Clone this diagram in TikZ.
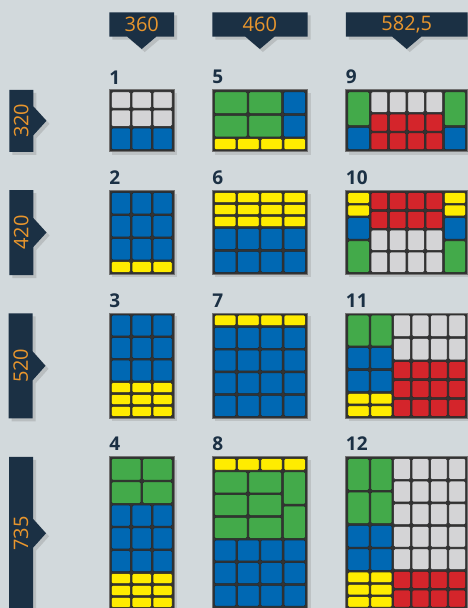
\documentclass[tikz,border=0pt]{standalone}
\usepackage{fontspec}
\setmainfont{Open Sans}
\usepackage{graphicx}
\usepackage{tikz}
\usetikzlibrary{positioning,shapes.callouts,shadows}
\definecolor{pbg}{RGB}{210,217,220}
\definecolor{pnavy}{RGB}{27,48,68}
\definecolor{porange}{RGB}{233,150,45}
\definecolor{pgrey}{RGB}{212,212,214}
\definecolor{pblue}{RGB}{0,104,179}
\definecolor{pgreen}{RGB}{67,170,74}
\definecolor{pyellow}{RGB}{255,236,0}
\definecolor{pred}{RGB}{212,37,43}

% x1, y1, x2, y2, columns, rows, colour
\newcommand{\boxblock}[7]{%
  \foreach \i in {1,...,#5}{
    \foreach \j in {1,...,#6}{
      \pgfmathsetmacro{\xa}{#1+(\i-1)*(#3-#1)/#5}
      \pgfmathsetmacro{\xb}{#1+\i*(#3-#1)/#5}
      \pgfmathsetmacro{\ya}{#2+(\j-1)*(#4-#2)/#6}
      \pgfmathsetmacro{\yb}{#2+\j*(#4-#2)/#6}
      \filldraw[cell, fill=#7] (\xa+0.9,\ya+0.9) rectangle (\xb-0.9,\yb-0.9);
    }
  }
}

\begin{document}
\begin{tikzpicture}[
  x=1pt, y=-1pt,
  tab/.style={rectangle callout, fill=pnavy, text=porange, inner sep=0pt, callout pointer width=29pt,
    font=\fontsize{20}{20}\selectfont, drop shadow={opacity=0.3, shadow xshift=3pt, shadow yshift=-3pt}},
  pallet/.style={draw=black!55, fill=black!80, line width=1.2pt, inner sep=0pt,
    drop shadow={opacity=0.25, shadow xshift=3pt, shadow yshift=-3pt}},
  cell/.style={draw=black!85, line width=0.5pt, rounded corners=1.2pt},
  num/.style={text=pnavy, inner sep=0pt, font=\fontsize{19}{19}\selectfont\bfseries}
]
  \useasboundingbox (0,0) rectangle (468,608);
  \fill[pbg] (0,0) rectangle (468,608);
  \clip (0,0) rectangle (468,608);

  % widths
  \node[tab, minimum width=64.9pt, minimum height=24.4pt, callout absolute pointer={(141.75,49)}] (t360) at (141.75,24.5) {360};
  \node[tab, minimum width=95.2pt, minimum height=24.4pt, callout absolute pointer={(259.9,49)}] (t460) at (259.9,24.5) {460};
  \node[tab, minimum width=121.9pt, minimum height=24.4pt, callout absolute pointer={(406.75,49)}] (t5825) at (406.75,24.5) {582,5};

  % heights
  \node[tab, minimum width=24pt, minimum height=62pt, callout absolute pointer={(46.5,120.8)}] (t320) at (21.3,120.8) {\rotatebox{90}{320}};
  \node[tab, minimum width=24pt, minimum height=85pt, callout absolute pointer={(46.5,232.5)}] (t420) at (21.3,232.5) {\rotatebox{90}{420}};
  \node[tab, minimum width=24pt, minimum height=105pt, callout absolute pointer={(45.5,365.8)}] (t520) at (20.6,365.8) {\rotatebox{90}{520}};
  \node[tab, minimum width=24pt, minimum height=153pt, callout absolute pointer={(46,533.3)}] (t735) at (21,533.3) {\rotatebox{90}{735}};

  % pallets
  \node[pallet, minimum width=64.9pt, minimum height=62pt] (p1) at (141.75,120.8) {};
  \node[pallet, minimum width=64.9pt, minimum height=83.9pt] (p2) at (141.75,232.45) {};
  \node[pallet, minimum width=64.9pt, minimum height=105.3pt] (p3) at (141.75,365.75) {};
  \node[pallet, minimum width=64.9pt, minimum height=152.6pt] (p4) at (141.75,532.9) {};
  \node[pallet, minimum width=95.2pt, minimum height=62pt] (p5) at (259.9,120.8) {};
  \node[pallet, minimum width=95.2pt, minimum height=83.9pt] (p6) at (259.9,232.45) {};
  \node[pallet, minimum width=95.2pt, minimum height=105.3pt] (p7) at (259.9,365.75) {};
  \node[pallet, minimum width=95.2pt, minimum height=152.6pt] (p8) at (259.9,532.9) {};
  \node[pallet, minimum width=121.9pt, minimum height=62pt] (p9) at (406.75,120.8) {};
  \node[pallet, minimum width=121.9pt, minimum height=83.9pt] (p10) at (406.75,232.45) {};
  \node[pallet, minimum width=121.9pt, minimum height=105.3pt] (p11) at (406.75,365.75) {};
  \node[pallet, minimum width=121.9pt, minimum height=152.6pt] (p12) at (406.75,532.9) {};

  \foreach \k in {1,...,12}
    \node[num, above right=5pt and 0.5pt of p\k.north west] (n\k) {\k};

  % 1
  \boxblock{110.5}{91}{173}{127.2}{3}{2}{pgrey}
  \boxblock{110.5}{127.2}{173}{150.6}{3}{1}{pblue}
  % 2
  \boxblock{110.5}{191.7}{173}{260.8}{3}{3}{pblue}
  \boxblock{110.5}{260.8}{173}{273.2}{3}{1}{pyellow}
  % 3
  \boxblock{110.5}{314.3}{173}{381.8}{3}{3}{pblue}
  \boxblock{110.5}{381.8}{173}{417.2}{3}{3}{pyellow}
  % 4
  \boxblock{110.5}{457.8}{173}{504.2}{2}{2}{pgreen}
  \boxblock{110.5}{504.2}{173}{572.6}{3}{3}{pblue}
  \boxblock{110.5}{572.6}{173}{608.3}{3}{3}{pyellow}
  % 5
  \boxblock{213.5}{91}{282.5}{137.8}{2}{2}{pgreen}
  \boxblock{282.5}{91}{306.3}{137.8}{1}{2}{pblue}
  \boxblock{213.5}{137.8}{306.3}{150.6}{4}{1}{pyellow}
  % 6
  \boxblock{213.5}{191.7}{306.3}{227.5}{4}{3}{pyellow}
  \boxblock{213.5}{227.5}{306.3}{273.2}{4}{2}{pblue}
  % 7
  \boxblock{213.5}{314.3}{306.3}{326.5}{4}{1}{pyellow}
  \boxblock{213.5}{326.5}{306.3}{417.2}{4}{4}{pblue}
  % 8
  \boxblock{213.5}{457.8}{306.3}{471}{4}{1}{pyellow}
  \boxblock{213.5}{471}{282.5}{539.2}{2}{3}{pgreen}
  \boxblock{282.5}{471}{306.3}{539.2}{1}{2}{pgreen}
  \boxblock{213.5}{539.2}{306.3}{607}{4}{3}{pblue}
  % 9
  \boxblock{347}{91}{370.2}{126.5}{1}{1}{pgreen}
  \boxblock{347}{126.5}{370.2}{150.6}{1}{1}{pblue}
  \boxblock{370.2}{91}{443.5}{113.2}{4}{1}{pgrey}
  \boxblock{370.2}{113.2}{443.5}{150.6}{4}{2}{pred}
  \boxblock{443.5}{91}{466.5}{126.5}{1}{1}{pgreen}
  \boxblock{443.5}{126.5}{466.5}{150.6}{1}{1}{pblue}
  % 10
  \foreach \xl/\xr in {347/370.2, 443.5/466.5}{
    \boxblock{\xl}{191.7}{\xr}{216.7}{1}{2}{pyellow}
    \boxblock{\xl}{216.7}{\xr}{240}{1}{1}{pblue}
    \boxblock{\xl}{240}{\xr}{273.2}{1}{1}{pgreen}
  }
  \boxblock{370.2}{191.7}{443.5}{229.2}{4}{2}{pred}
  \boxblock{370.2}{229.2}{443.5}{273.2}{4}{2}{pgrey}
  % 11
  \boxblock{347}{314.3}{392.8}{346.7}{2}{1}{pgreen}
  \boxblock{347}{346.7}{392.8}{392.5}{2}{2}{pblue}
  \boxblock{347}{392.5}{392.8}{417.2}{2}{2}{pyellow}
  \boxblock{392.8}{314.3}{466.5}{360.8}{4}{2}{pgrey}
  \boxblock{392.8}{360.8}{466.5}{417.2}{4}{3}{pred}
  % 12
  \boxblock{347}{457.8}{392.8}{524.5}{2}{2}{pgreen}
  \boxblock{347}{524.5}{392.8}{571.3}{2}{2}{pblue}
  \boxblock{347}{571.3}{392.8}{608}{2}{3}{pyellow}
  \boxblock{392.8}{457.8}{466.5}{570.5}{4}{5}{pgrey}
  \boxblock{392.8}{570.5}{466.5}{608}{4}{2}{pred}
\end{tikzpicture}
\end{document}
